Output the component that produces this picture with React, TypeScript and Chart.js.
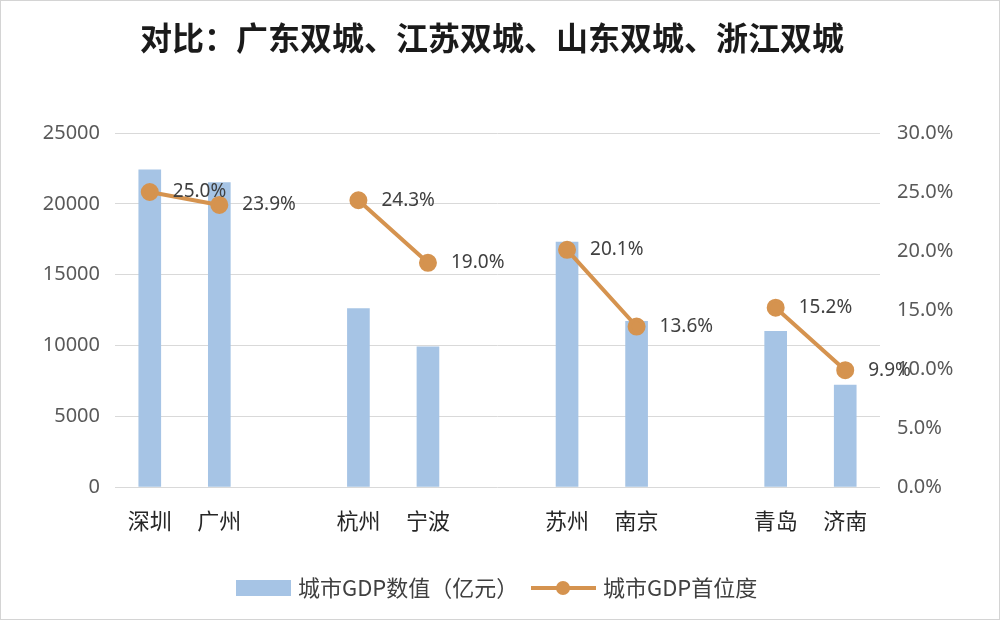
import React, { useEffect, useRef } from "react";
import { Chart, registerables } from "chart.js";

Chart.register(...registerables);

const titleText = "对比：广东双城、江苏双城、山东双城、浙江双城";
const categories = ["深圳", "广州", "", "杭州", "宁波", "", "苏州", "南京", "", "青岛", "济南"];
const gdpValues: (number | null)[] = [22400, 21500, null, 12600, 9900, null, 17300, 11700, null, 11000, 7200];
const primacyValues: (number | null)[] = [25.0, 23.9, null, 24.3, 19.0, null, 20.1, 13.6, null, 15.2, 9.9];
const leftTicks = [0, 5000, 10000, 15000, 20000, 25000];
const rightTicks = [0, 5, 10, 15, 20, 25, 30];
const barLabel = "城市GDP数值（亿元）";
const lineLabel = "城市GDP首位度";

const BAR_COLOR = "#a6c4e5";
const LINE_COLOR = "#d5934f";
const CJK = '"Noto Sans CJK SC", "Noto Sans", sans-serif';
const NUM = '"Noto Sans", "Open Sans", sans-serif';

const decorPlugin = {
  id: "decor",
  afterDraw(chart: any) {
    const ctx = chart.ctx;
    const W = chart.width;
    ctx.save();
    // frame
    ctx.strokeStyle = "#d4d4d4";
    ctx.lineWidth = 1;
    ctx.strokeRect(0.5, 0.5, W - 1, chart.height - 1);
    // title
    ctx.fillStyle = "#1a1a1a";
    ctx.font = `bold 32px ${CJK}`;
    ctx.textAlign = "center";
    ctx.textBaseline = "middle";
    ctx.fillText(titleText, 492, 38);
    // data labels
    const meta = chart.getDatasetMeta(1);
    ctx.font = `19px ${NUM}`;
    ctx.fillStyle = "#404040";
    ctx.textAlign = "left";
    meta.data.forEach((pt: any, i: number) => {
      const v = primacyValues[i];
      if (v === null || v === undefined) return;
      ctx.fillText(v.toFixed(1) + "%", pt.x + 23, pt.y);
    });
    // legend
    const ly = 588;
    ctx.fillStyle = BAR_COLOR;
    ctx.fillRect(236, ly - 8, 55, 16);
    ctx.font = `22px ${CJK}`;
    ctx.fillStyle = "#404040";
    ctx.textBaseline = "middle";
    ctx.fillText(barLabel, 298, ly);
    ctx.strokeStyle = LINE_COLOR;
    ctx.lineWidth = 4;
    ctx.beginPath();
    ctx.moveTo(531, ly);
    ctx.lineTo(596, ly);
    ctx.stroke();
    ctx.fillStyle = LINE_COLOR;
    ctx.beginPath();
    ctx.arc(563, ly, 7, 0, Math.PI * 2);
    ctx.fill();
    ctx.fillStyle = "#404040";
    ctx.fillText(lineLabel, 603, ly);
    ctx.restore();
  },
};

export default function App() {
  const ref = useRef<HTMLCanvasElement>(null);
  useEffect(() => {
    if (!ref.current) return;
    const chart = new Chart(ref.current, {
      type: "bar",
      data: {
        labels: categories,
        datasets: [
          {
            type: "bar",
            label: barLabel,
            data: gdpValues,
            backgroundColor: BAR_COLOR,
            barThickness: 22,
            yAxisID: "y",
            order: 2,
          },
          {
            type: "line",
            label: lineLabel,
            data: primacyValues,
            borderColor: LINE_COLOR,
            backgroundColor: LINE_COLOR,
            borderWidth: 4,
            pointRadius: 7,
            pointBackgroundColor: LINE_COLOR,
            pointBorderColor: LINE_COLOR,
            spanGaps: false,
            yAxisID: "y1",
            order: 1,
          } as any,
        ],
      },
      options: {
        responsive: false,
        animation: false,
        layout: { padding: { top: 133, bottom: 73, left: 0, right: 0 } },
        plugins: {
          legend: { display: false },
          title: { display: false },
          tooltip: { enabled: false },
        },
        scales: {
          x: {
            grid: { display: false, drawTicks: false },
            border: { display: false },
            ticks: {
              color: "#262626",
              font: { family: CJK, size: 22 },
              padding: 20,
              autoSkip: false,
              maxRotation: 0,
            },
            afterFit(axis: any) {
              axis.height = 60;
            },
          },
          y: {
            position: "left",
            min: 0,
            max: 25000,
            afterBuildTicks(axis: any) {
              axis.ticks = leftTicks.map((v) => ({ value: v }));
            },
            grid: { color: "#d9d9d9", lineWidth: 1, drawTicks: false },
            border: { display: false },
            ticks: {
              color: "#595959",
              font: { family: NUM, size: 20 },
              padding: 15,
              callback: (v: any) => String(v),
            },
            afterFit(axis: any) {
              axis.width = 115;
            },
          },
          y1: {
            position: "right",
            min: 0,
            max: 30,
            afterBuildTicks(axis: any) {
              axis.ticks = rightTicks.map((v) => ({ value: v }));
            },
            grid: { display: false, drawTicks: false },
            border: { display: false },
            ticks: {
              color: "#595959",
              font: { family: NUM, size: 20 },
              padding: 17,
              callback: (v: any) => Number(v).toFixed(1) + "%",
            },
            afterFit(axis: any) {
              axis.width = 120;
            },
          },
        },
      },
      plugins: [decorPlugin],
    });
    return () => chart.destroy();
  }, []);
  return (
    <div style={{ position: "fixed", left: 0, top: 0, width: 1000, height: 620, background: "#fff" }}>
      <canvas ref={ref} width={1000} height={620} />
    </div>
  );
}
